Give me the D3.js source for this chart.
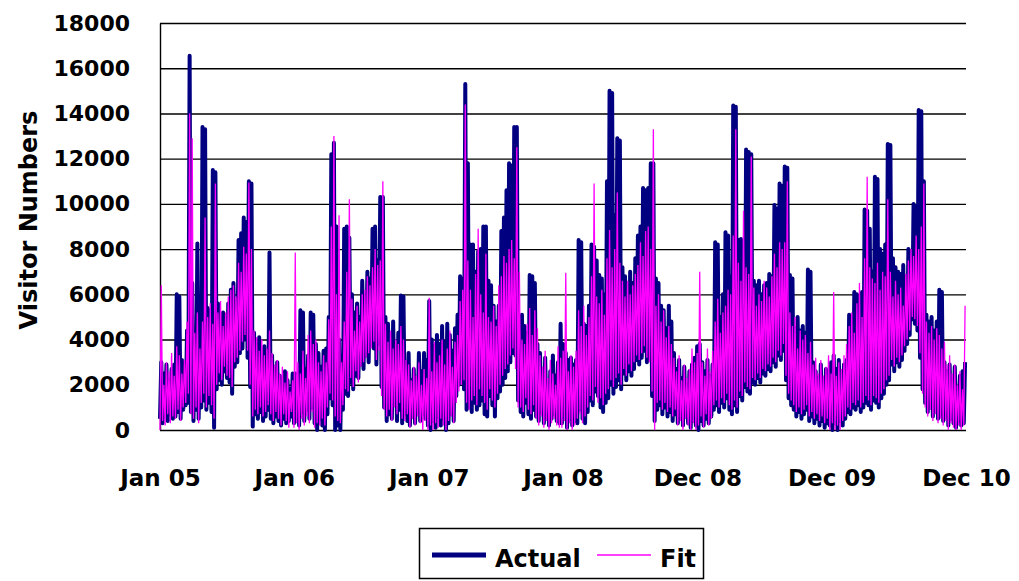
<!DOCTYPE html>
<html>
<head>
<meta charset="utf-8">
<script src="https://cdn.jsdelivr.net/npm/d3@7"></script>
<style>
body { margin: 0; background: #fff; }
text { font-family: "DejaVu Sans", sans-serif; font-weight: bold; fill: #000; }
</style>
</head>
<body>
<script>
var width = 1019;
var height = 581;
var plotLeft = 160, plotRight = 966, plotTop = 23, plotBottom = 430;
var actualColor = '#000080';
var fitColor = '#FF00FF';

var startDate = '2005-01-01';
var endDate = '2010-12-31';
var tickDates = ['2005-01-01', '2006-01-01', '2007-01-01', '2008-01-01', '2008-12-31', '2009-12-31', '2010-12-31'];
var yTicks = [0, 2000, 4000, 6000, 8000, 10000, 12000, 14000, 16000, 18000];
var seriesNames = ['Actual', 'Fit'];

// weekly peak and weekly trough of the daily visitor counts, one line per year
var actualHigh = [
  3000,2500,2900,2200,2700,2900,6000,5900,3100,2900,4400,16550,6500,4300,8250,3500,13400,13300,5400,5300,11500,11400,5600,4000,5200,3900,5600,6200,6500,5000,8400,8700,9400,9200,11000,10900,4300,3800,4100,3200,3700,3000,7850,3300,2600,3000,2400,2000,2600,2200,1800,2500,
  2500,2000,5300,5200,2700,3300,5200,5100,3800,3400,2800,3500,3600,5000,12200,12700,9000,4000,3300,8900,9000,8500,6000,5200,5600,5000,6600,5800,7000,6700,8900,9000,7500,10300,10300,5000,4700,4000,4800,3700,4300,5950,5900,3000,3400,2200,2700,2000,3400,2600,3400,3100,
  5700,4000,3700,4200,3800,4600,3900,4700,4200,3500,4500,5100,6800,6700,15300,11800,8200,8200,7000,7900,8000,9000,9000,6600,6400,5500,4800,5500,8800,9400,10600,11800,11700,13400,13400,3600,5100,4600,4300,6850,6800,6500,3800,3400,2600,3200,2000,2600,3300,2400,3000,4700,
  3800,3400,3100,3200,2900,3100,8400,8300,4700,4600,5500,8200,8100,7500,6850,6700,6000,11000,15000,14900,9500,12900,12800,7200,6800,6400,7000,6500,7600,8600,9000,10700,10600,10700,11800,11800,6700,6500,5500,5300,4500,5500,4800,3400,2700,3100,2300,2800,2000,2600,2900,3200,
  3700,3800,3000,2600,3100,2400,2900,8300,8200,5000,6000,8750,8600,6800,14350,14300,8400,8450,7500,12400,12300,12200,6600,6400,6600,6000,6400,6500,6900,6800,9950,9800,10900,10800,11650,11600,6850,6700,4500,5000,4400,4600,4300,7100,7000,3000,2600,2300,2900,2100,2700,2400,
  3000,3300,2700,3100,2500,2900,3100,5100,5000,6100,6000,5900,6100,9750,9700,8900,7000,11200,11100,8000,7800,8200,12650,12600,7600,7200,7000,6900,7300,6800,8000,7900,10000,9900,14150,14100,11000,5100,4800,5000,4400,4800,6200,6100,3000,2600,2900,2200,2800,1800,2400,2600,3000
];
var actualLow = [
  500,300,600,400,700,500,600,800,500,900,1100,1200,800,400,900,500,1000,1300,900,1200,800,100,1800,2200,2000,2600,2300,2100,1600,2800,3000,3400,3600,4000,3200,1900,150,700,500,800,400,600,900,500,300,600,400,200,500,300,400,600,
  300,600,200,800,400,900,500,1000,300,0,500,200,0,700,1400,1100,0,200,0,900,1600,1500,2100,1800,2400,2300,2900,2700,3300,3000,3800,3600,2900,3800,1900,1000,400,700,500,1200,400,900,300,700,400,200,600,300,800,400,700,500,
  200,0,400,100,600,200,500,0,300,700,400,1500,2000,2300,1800,900,1000,800,1200,900,1100,1300,700,600,1500,1100,600,1400,1700,2000,2300,2600,3000,3400,3300,1300,800,600,1200,700,500,900,600,400,800,300,600,200,500,700,400,300,
  300,600,100,500,200,400,300,900,500,300,800,1300,1100,1700,1500,1000,800,1200,1400,2000,1600,1900,2200,1800,2500,2200,2600,2400,2700,3100,2900,3200,3500,3000,3200,1500,400,900,1100,700,1000,600,800,400,700,300,500,200,600,300,100,400,
  200,0,400,200,500,300,600,900,1100,800,1200,1000,1400,900,700,1100,800,1500,1300,1900,1700,1600,2100,2000,2300,2100,2500,2400,2700,2600,3000,2800,3300,3100,3500,2200,1400,1100,900,600,800,500,700,900,400,600,300,500,200,400,100,300,
  200,0,300,0,400,200,500,800,700,1000,900,1100,800,1000,1200,1100,900,1300,1200,1000,1400,1600,2000,2200,2900,2600,3000,2800,3100,3500,3800,4200,4900,4700,4400,3200,1800,1200,800,1000,600,900,500,700,400,600,200,500,300,100,400,200,300
];
var fitHigh = [
  6400,2000,3000,2600,3400,2400,3700,3300,2500,3100,4800,14000,12900,4300,5200,3600,4800,9400,5000,5600,4700,10900,5200,5700,4600,5200,5900,6200,6400,5900,7400,7000,8100,7800,10950,8000,4400,4100,3500,4000,3300,3600,4400,3400,2900,3100,2500,2800,2100,2600,1700,2200,
  7850,3000,2500,3500,2300,4200,4400,3800,4000,3000,2600,3300,3000,4900,9000,13000,6000,9500,3000,4800,7000,10200,5800,4400,5500,4800,6000,6200,6800,6400,7200,8000,7300,7500,11000,4700,3900,4400,3600,4000,3800,4600,4000,3100,2900,2200,2800,2400,3000,2000,2700,2300,
  5850,2600,3900,3000,3300,4000,2900,3600,4400,2800,3900,4200,5700,6200,14400,7500,6200,5000,6900,8900,6000,5200,7800,5000,4800,5500,4600,6400,6800,7700,7400,8000,8400,7600,12500,7000,4000,3800,4700,5400,4200,5300,4500,3300,2800,3500,2300,3100,2500,2000,3700,3200,
  3500,6950,2600,3300,2800,3500,5300,4600,5500,4200,5000,6800,10900,5900,5600,6200,5100,7600,8850,7200,8000,10500,7400,6600,5900,6600,6000,6400,6900,7300,8300,7700,8800,9000,8000,13300,5500,6000,4800,5300,4100,4600,3800,3200,2600,3300,2200,2900,2300,2700,3600,3000,
  3400,7000,3000,2400,3600,2600,3500,4800,5800,4300,5200,5500,6200,6000,8600,13300,7400,6600,9700,7200,6900,12100,6300,5500,6000,5700,6600,6300,5900,6800,7800,7200,8300,8000,8300,11000,5200,4600,5000,3600,4400,4000,4200,3400,3900,2900,3200,2500,3100,2400,2800,3300,
  2500,6100,2400,3000,2700,3300,3800,4600,5200,4300,5600,6500,5000,7600,11200,7200,6700,6500,7400,6200,7000,6800,10200,7000,5900,6600,6000,6300,5500,6900,7500,8000,7700,8600,8000,9000,10900,4800,4300,4600,4000,4500,4200,3600,3900,2900,3300,2500,2900,2000,2600,1800,5500
];
var fitLow = [
  0,400,200,700,300,600,500,900,400,1000,1200,1600,700,500,1000,300,1200,1600,1000,1500,1100,500,2000,2500,2200,2800,2400,2300,1900,3000,3200,3500,3900,4200,3500,2000,600,900,700,1000,600,800,1100,700,400,800,500,200,700,400,100,800,
  100,300,0,500,200,600,300,800,100,300,200,500,200,1000,1600,1300,600,400,300,1100,1800,1700,2300,1900,2600,2100,2800,3000,3200,3400,3600,3900,3100,3500,1500,900,600,900,400,1000,700,1200,500,400,700,100,500,200,600,300,0,400,
  0,200,0,300,100,500,200,0,400,600,300,1200,1700,2000,2200,1200,900,1300,1500,1100,1800,1500,1200,900,1800,1300,1000,1600,2000,2400,2700,2900,3300,3600,2700,1000,1000,800,1400,900,700,1100,500,200,600,100,400,0,300,500,200,100,
  100,400,0,300,0,200,500,700,300,600,1000,1500,1300,1900,1200,1400,1100,1600,1800,2200,1900,2300,2500,2000,2700,2400,2900,2600,3000,3300,3100,3400,3700,3200,3000,1700,0,1200,1300,900,1200,800,1000,600,900,200,400,0,500,200,0,300,
  0,200,600,100,700,200,500,1100,1300,1000,1400,1200,1600,1100,900,1300,1000,1700,1500,2100,1900,1800,2300,2200,2500,2300,2700,2600,2900,2800,3200,3000,3500,3300,3800,2400,1600,1300,1100,800,1000,700,900,1100,600,800,500,700,400,600,300,500,
  0,300,0,200,0,400,600,1000,900,1200,1100,1300,1000,1200,1500,1300,1100,1500,1400,1200,1600,1800,2200,2400,3100,2800,3200,3000,3300,3700,4000,4400,5000,4900,4600,3400,1600,1000,600,900,400,700,300,500,200,400,0,300,100,0,200,0,200
];

var parseDate = d3.utcParse('%Y-%m-%d');
var formatTick = d3.utcFormat('%b %y');

// trough early in the week, peak mid-week
function weeklyPoints(high, low) {
    var start = parseDate(startDate);
    var pts = [];
    high.forEach(function(h, i) {
	pts.push({date: d3.utcHour.offset(start, i*168), value: low[i]});
	pts.push({date: d3.utcHour.offset(start, i*168 + 84), value: h});
    });
    return pts;
}

function main() {
    var svg = d3.select('body')
	.append('svg')
	.attr('width', width)
	.attr('height', height);

    var x = d3.scaleUtc()
	.domain([parseDate(startDate), parseDate(endDate)])
	.range([plotLeft, plotRight]);
    var y = d3.scaleLinear()
	.domain([0, 18000])
	.range([plotBottom, plotTop]);

    var yAxis = svg.append('g')
	.attr('transform', 'translate(' + plotLeft + ',0)')
	.call(d3.axisLeft(y)
	      .tickValues(yTicks)
	      .tickFormat(d3.format('d'))
	      .tickSize(-(plotRight - plotLeft))
	      .tickSizeOuter(0)
	      .tickPadding(30));
    yAxis.selectAll('line').style('stroke', '#000').style('stroke-width', 1.4);
    yAxis.select('.domain').style('stroke', '#000').style('stroke-width', 1.4);
    yAxis.selectAll('text')
	.style('font-family', '"DejaVu Sans", sans-serif')
	.style('font-weight', 'bold')
	.style('font-size', '22px')
	.style('fill', '#000');

    var xAxis = svg.append('g')
	.attr('transform', 'translate(0,' + plotBottom + ')')
	.call(d3.axisBottom(x)
	      .tickValues(tickDates.map(parseDate))
	      .tickFormat(formatTick)
	      .tickSize(0)
	      .tickPadding(40));
    xAxis.select('.domain').remove();
    xAxis.selectAll('text')
	.style('font-family', '"DejaVu Sans", sans-serif')
	.style('font-weight', 'bold')
	.style('font-size', '23px')
	.style('fill', '#000');

    svg.append('text')
	.attr('transform', 'translate(37,220) rotate(-90)')
	.attr('text-anchor', 'middle')
	.style('font-size', '24px')
	.text('Visitor Numbers');

    var line = d3.line()
	.x(function(d) { return x(d.date); })
	.y(function(d) { return y(d.value); });

    svg.append('path')
	.datum(weeklyPoints(actualHigh, actualLow))
	.attr('d', line)
	.style('fill', 'none')
	.style('stroke', actualColor)
	.style('stroke-width', 4)
	.style('stroke-linejoin', 'round');

    svg.append('path')
	.datum(weeklyPoints(fitHigh, fitLow))
	.attr('d', line)
	.style('fill', 'none')
	.style('stroke', fitColor)
	.style('stroke-width', 1.3);

    // legend
    var legend = svg.append('g');
    legend.append('rect')
	.attr('x', 419.5)
	.attr('y', 528.5)
	.attr('width', 284)
	.attr('height', 50)
	.style('fill', '#fff')
	.style('stroke', '#000')
	.style('stroke-width', 1.5);

    var items = legend.selectAll('.item')
	.data(seriesNames)
	.enter().append('g')
	.attr('class', 'item')
	.attr('transform', function(d, i) {
		return 'translate(' + (i == 0 ? 432 : 597) + ',555)';
	    });
    items.append('line')
	.attr('x1', 0)
	.attr('x2', 54)
	.style('stroke', function(d, i) { return i == 0 ? actualColor : fitColor; })
	.style('stroke-width', function(d, i) { return i == 0 ? 5 : 1.7; });
    items.append('text')
	.attr('x', 63)
	.attr('y', 12)
	.style('font-size', '24px')
	.text(function(d) { return d; });
}

main();
</script>
</body>
</html>
